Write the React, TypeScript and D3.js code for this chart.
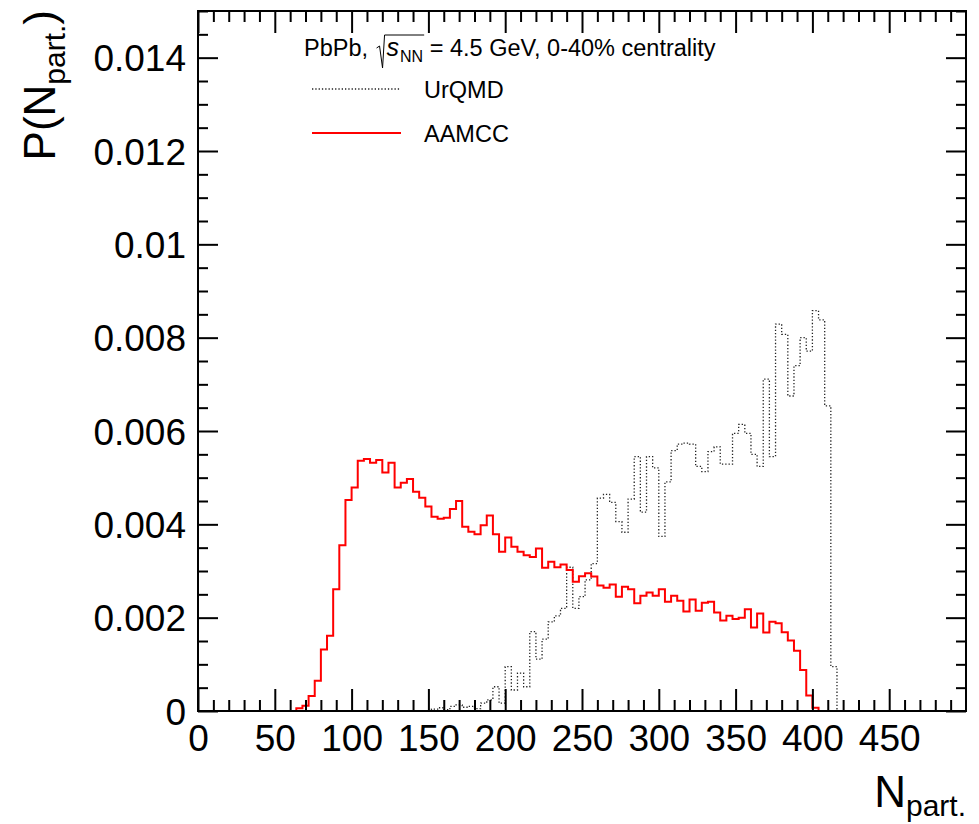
import { useEffect, useRef } from 'react'
import * as d3 from 'd3'

// histogram bins are 4 units wide; only the non-empty bins are listed
const binWidth = 4
const aamccFirstEdge = 64
const aamccValues = [
  0.00006, 0.00011, 0.00032, 0.00065, 0.00132, 0.00161, 0.00261, 0.00355, 0.00452, 0.00479,
  0.00536, 0.0054, 0.00532, 0.00538, 0.00511, 0.00532, 0.00479, 0.00489, 0.00497, 0.0047,
  0.00457, 0.00438, 0.00416, 0.00412, 0.00414, 0.00433, 0.0045, 0.00395, 0.00384, 0.00379,
  0.00398, 0.00419, 0.00379, 0.00341, 0.00372, 0.00352, 0.00341, 0.00334, 0.0033, 0.00348,
  0.00307, 0.0032, 0.00308, 0.00314, 0.00302, 0.00277, 0.00289, 0.00295, 0.00288, 0.00269,
  0.00264, 0.00271, 0.00245, 0.00266, 0.00261, 0.00231, 0.00247, 0.00254, 0.00247, 0.00261,
  0.00234, 0.00247, 0.00236, 0.00213, 0.00239, 0.00215, 0.00232, 0.00234, 0.00211, 0.00194,
  0.00204, 0.00197, 0.002, 0.00218, 0.00179, 0.00209, 0.00168, 0.00191, 0.00188, 0.00169,
  0.00151, 0.00129, 0.00088, 0.00033, 0.00007,
]
const urqmdFirstEdge = 152
const urqmdValues = [
  0.00004, 0.00007, 0.00003, 0.0001, 0.00013, 0.00008, 0.0001, 0.00005, 0.00017, 0.00024,
  0.00052, 0.00017, 0.00095, 0.00045, 0.00081, 0.00052, 0.0017, 0.00111, 0.00154, 0.00191,
  0.00204, 0.0022, 0.00308, 0.0022, 0.00245, 0.00281, 0.00316, 0.00456, 0.00464, 0.00447,
  0.00406, 0.00383, 0.00454, 0.00545, 0.00426, 0.00545, 0.00521, 0.00374, 0.00491, 0.00558,
  0.00572, 0.00574, 0.00572, 0.00524, 0.00513, 0.00556, 0.00566, 0.00529, 0.00529, 0.00595,
  0.00614, 0.00595, 0.0055, 0.00524, 0.00711, 0.00545, 0.00829, 0.00807, 0.00675, 0.0074,
  0.008, 0.00771, 0.00858, 0.00838, 0.00654, 0.00095,
]

const xTicks = [0, 50, 100, 150, 200, 250, 300, 350, 400, 450]
const yTicks = [0, 0.002, 0.004, 0.006, 0.008, 0.01, 0.012, 0.014]
const yTickLabels = ['0', '0.002', '0.004', '0.006', '0.008', '0.01', '0.012', '0.014']

const FONT = '"Liberation Sans", Arial, Helvetica, sans-serif'

function histPoints(firstEdge: number, values: number[]): [number, number][] {
  const pts: [number, number][] = [[0, 0]]
  values.forEach((v, i) => pts.push([firstEdge + i * binWidth, v]))
  pts.push([firstEdge + values.length * binWidth, 0])
  pts.push([500, 0])
  return pts
}

export default function App() {
  const svgRef = useRef<SVGSVGElement>(null)

  useEffect(() => {
    if (!svgRef.current) return
    const svg = d3.select(svgRef.current)
    svg.selectAll('*').remove()

    const left = 198, right = 966, top = 11, bottom = 711

    const x = d3.scaleLinear().domain([0, 500]).range([left, right])
    const y = d3.scaleLinear().domain([0, 0.015]).range([bottom, top])

    const line = d3.line<[number, number]>()
      .x(d => x(d[0]))
      .y(d => y(d[1]))
      .curve(d3.curveStepAfter)

    svg.append('path')
      .datum(histPoints(urqmdFirstEdge, urqmdValues))
      .attr('fill', 'none')
      .attr('stroke', '#222')
      .attr('stroke-width', 1.3)
      .attr('stroke-dasharray', '1.3,2')
      .attr('d', line)

    svg.append('path')
      .datum(histPoints(aamccFirstEdge, aamccValues))
      .attr('fill', 'none')
      .attr('stroke', '#ff0000')
      .attr('stroke-width', 2)
      .attr('d', line)

    const tickStyle = (g: any) => g.selectAll('line').attr('stroke', '#000').attr('stroke-width', 2)

    // bottom axis
    const xMinor = d3.range(0, 501, 10).filter(v => v % 50 !== 0)
    svg.append('g')
      .attr('transform', `translate(0,${bottom})`)
      .call(d3.axisBottom(x).tickValues(xMinor).tickSize(-11).tickFormat(() => ''))
      .call((g: any) => g.select('.domain').remove())
      .call(tickStyle)
    svg.append('g')
      .attr('transform', `translate(0,${bottom})`)
      .call(d3.axisBottom(x).tickValues(xTicks).tickSize(-22).tickFormat(d => String(d)))
      .call((g: any) => g.select('.domain').remove())
      .call(tickStyle)
      .call((g: any) => g.selectAll('text')
        .attr('y', 40).attr('dy', 0)
        .attr('font-family', FONT).attr('font-size', 37).attr('fill', '#000'))

    // top axis
    svg.append('g')
      .attr('transform', `translate(0,${top})`)
      .call(d3.axisTop(x).tickValues(xMinor).tickSize(-11).tickFormat(() => ''))
      .call((g: any) => g.select('.domain').remove())
      .call(tickStyle)
    svg.append('g')
      .attr('transform', `translate(0,${top})`)
      .call(d3.axisTop(x).tickValues(xTicks).tickSize(-22).tickFormat(() => ''))
      .call((g: any) => g.select('.domain').remove())
      .call(tickStyle)

    // left axis
    const yMinor = d3.range(0, 31).map(i => i * 0.0005).filter((_, i) => i % 4 !== 0)
    svg.append('g')
      .attr('transform', `translate(${left},0)`)
      .call(d3.axisLeft(y).tickValues(yMinor).tickSize(-10).tickFormat(() => ''))
      .call((g: any) => g.select('.domain').remove())
      .call(tickStyle)
    svg.append('g')
      .attr('transform', `translate(${left},0)`)
      .call(d3.axisLeft(y).tickValues(yTicks).tickSize(-20).tickFormat((_, i) => yTickLabels[i]))
      .call((g: any) => g.select('.domain').remove())
      .call(tickStyle)
      .call((g: any) => g.selectAll('text')
        .attr('x', -12).attr('dy', '0.36em')
        .attr('font-family', FONT).attr('font-size', 37).attr('fill', '#000'))

    // right axis
    svg.append('g')
      .attr('transform', `translate(${right},0)`)
      .call(d3.axisRight(y).tickValues(yMinor).tickSize(-10).tickFormat(() => ''))
      .call((g: any) => g.select('.domain').remove())
      .call(tickStyle)
    svg.append('g')
      .attr('transform', `translate(${right},0)`)
      .call(d3.axisRight(y).tickValues(yTicks).tickSize(-20).tickFormat(() => ''))
      .call((g: any) => g.select('.domain').remove())
      .call(tickStyle)

    // frame
    svg.append('rect')
      .attr('x', left).attr('y', top)
      .attr('width', right - left).attr('height', bottom - top)
      .attr('fill', 'none').attr('stroke', '#000').attr('stroke-width', 2)

    // axis titles
    const xt = svg.append('text')
      .attr('x', right).attr('y', 807)
      .attr('text-anchor', 'end')
      .attr('font-family', FONT).attr('font-size', 44).attr('fill', '#000')
    xt.append('tspan').text('N')
    xt.append('tspan').attr('font-size', 30).attr('dy', 9).text('part.')

    const yt = svg.append('text')
      .attr('transform', `translate(55,${top - 1}) rotate(-90)`)
      .attr('text-anchor', 'end')
      .attr('font-family', FONT).attr('font-size', 44).attr('fill', '#000')
    yt.append('tspan').text('P(N')
    yt.append('tspan').attr('font-size', 30).attr('dy', 10).text('part.')
    yt.append('tspan').attr('dy', -10).text(')')

    // header with sqrt(s_NN)
    const hy = 56
    const header = svg.append('g').attr('font-family', FONT).attr('fill', '#000')
    let cx = 304
    const put = (txt: string, size: number, dy = 0, italic = false) => {
      const t = header.append('text')
        .attr('x', cx).attr('y', hy + dy)
        .attr('font-size', size)
        .attr('font-style', italic ? 'italic' : 'normal')
        .style('white-space', 'pre')
        .text(txt)
      const w = (t.node() as SVGTextElement).getComputedTextLength()
      cx += w
      return w
    }
    put('PbPb,\u00a0', 23.5)
    const rx = cx + 2
    cx += 12
    const sStart = cx
    put('s', 25, 0, true)
    cx += 1
    put('NN', 16, 6)
    const sEnd = cx
    header.append('path')
      .attr('d', `M${rx},${hy - 8} L${rx + 3},${hy - 10} L${rx + 6},${hy + 12} L${sStart - 2},${hy - 21} H${sEnd + 1}`)
      .attr('fill', 'none').attr('stroke', '#000').attr('stroke-width', 1)
    put('\u00a0= 4.5 GeV, 0-40% centrality', 23.5)

    // legend
    const legend = [
      { label: 'UrQMD', y: 89, stroke: '#222', dash: '1.3,2', w: 1.3 },
      { label: 'AAMCC', y: 133, stroke: '#ff0000', dash: null, w: 2 },
    ]
    legend.forEach(d => {
      svg.append('line')
        .attr('x1', 312).attr('x2', 401).attr('y1', d.y).attr('y2', d.y)
        .attr('stroke', d.stroke).attr('stroke-width', d.w)
        .attr('stroke-dasharray', d.dash)
      svg.append('text')
        .attr('x', 424).attr('y', d.y + 8.5)
        .attr('font-family', FONT).attr('font-size', 23.5).attr('fill', '#000')
        .text(d.label)
    })
  }, [])

  return (
    <svg
      ref={svgRef}
      width={979}
      height={824}
      style={{ position: 'absolute', left: 0, top: 0, background: '#fff' }}
    />
  )
}
